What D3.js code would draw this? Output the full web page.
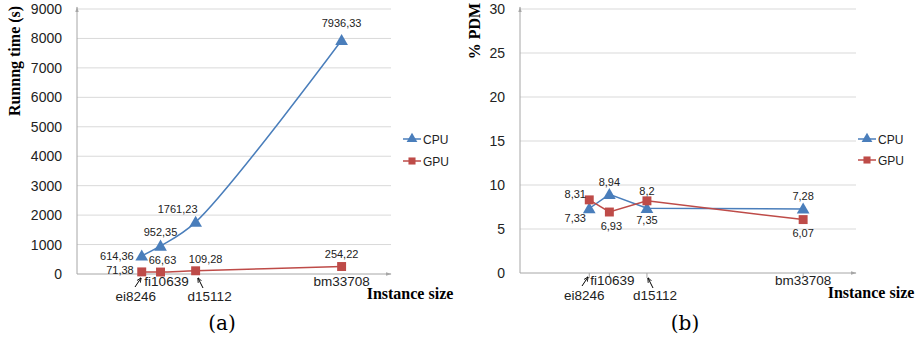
<!DOCTYPE html>
<html lang="en">
<head>
    <meta charset="UTF-8">
    <title>Running time and %PDM</title>
    <style>
        body { margin: 0; background: #fff; }
        .tick-label { font-family: "Liberation Sans", Arial, sans-serif; font-size: 14px; fill: #222; }
        .val { font-family: "Liberation Sans", Arial, sans-serif; font-size: 11px; fill: #222; }
        .cat { font-family: "Liberation Sans", Arial, sans-serif; font-size: 13.5px; fill: #222; }
        .title { font-family: "Liberation Serif", "Times New Roman", serif; font-size: 16px; font-weight: bold; fill: #000; }
        .caption { font-family: "DejaVu Serif", "Liberation Serif", serif; font-size: 20px; fill: #000; }
        .legend { font-family: "Liberation Sans", Arial, sans-serif; font-size: 12px; fill: #222; }
    </style>
</head>
<body>
    <script src="https://d3js.org/d3.v7.min.js"></script>
    <script>
        // data
        const categories = ["ei8246", "fi10639", "d15112", "bm33708"];
        const sizes = [8246, 10639, 15112, 33708];
        const cpuTime = [614.36, 952.35, 1761.23, 7936.33];
        const gpuTime = [71.38, 66.63, 109.28, 254.22];
        const cpuPdm = [7.33, 8.94, 7.35, 7.28];
        const gpuPdm = [8.31, 6.93, 8.2, 6.07];
        const timeTicks = [0, 1000, 2000, 3000, 4000, 5000, 6000, 7000, 8000, 9000];
        const pdmTicks = [0, 5, 10, 15, 20, 25, 30];

        const blue = "#4a7ebb", red = "#be4b48";
        const fmt = d => String(d).replace(".", ",");

        const svg = d3.select("body").append("svg")
            .attr("width", 922).attr("height", 340);

        // label placement per panel / series (dx, dy, anchor)
        const panels = [
            {
                xr: [77, 391], yr: [274, 9], ymax: 9000, ticks: timeTicks,
                series: [
                    { vals: cpuTime, color: blue, sym: d3.symbolTriangle, curve: d3.curveCatmullRom,
                      lab: [[-8, 4, "end"], [0, -10, "middle"], [-18, -9, "middle"], [0, -13, "middle"]] },
                    { vals: gpuTime, color: red, sym: d3.symbolSquare, curve: d3.curveCatmullRom,
                      lab: [[-8, 2, "end"], [2, -8, "middle"], [10, -8, "middle"], [0, -9, "middle"]] }
                ],
                catDx: [-6, 6, 14, 0], arrows: [[135, 287, 141, 278], [203, 288, 198, 278]],
                ticksOnX: false,
                title: "Runnng time (s)", titleX: 20, titleY: 61,
                legendX: 403, legendY: [139, 161],
                instX: 410, caption: "(a)", capX: 222
            },
            {
                xr: [520, 856], yr: [273, 9], ymax: 30, ticks: pdmTicks,
                series: [
                    { vals: cpuPdm, color: blue, sym: d3.symbolTriangle, curve: d3.curveLinear,
                      lab: [[-14, 14, "middle"], [0, -8, "middle"], [0, 16, "middle"], [0, -9, "middle"]] },
                    { vals: gpuPdm, color: red, sym: d3.symbolSquare, curve: d3.curveLinear,
                      lab: [[-14, -2, "middle"], [2, 18, "middle"], [0, -6, "middle"], [0, 17, "middle"]] }
                ],
                catDx: [-5, 3, 8, 0], arrows: [[582, 286, 588, 277], [653, 288, 648, 278]],
                ticksOnX: true,
                title: "% PDM", titleX: 480, titleY: 31,
                legendX: 858, legendY: [139, 160],
                instX: 871, caption: "(b)", capX: 685
            }
        ];

        const defs = svg.append("defs");
        defs.append("marker").attr("id", "axArrow").attr("viewBox", "0 0 10 10")
            .attr("refX", 9).attr("refY", 5).attr("markerWidth", 6).attr("markerHeight", 6)
            .attr("orient", "auto")
            .append("path").attr("d", "M0,2L10,5L0,8Z").attr("fill", "#a6a6a6");
        defs.append("marker").attr("id", "ptArrow").attr("viewBox", "0 0 10 10")
            .attr("refX", 9).attr("refY", 5).attr("markerWidth", 5).attr("markerHeight", 5)
            .attr("orient", "auto")
            .append("path").attr("d", "M0,1L10,5L0,9").attr("fill", "none").attr("stroke", "#000").attr("stroke-width", 1.6);

        panels.forEach(p => {
            const x = d3.scaleLinear().domain([0, 40000]).range(p.xr);
            const y = d3.scaleLinear().domain([0, p.ymax]).range(p.yr);
            const g = svg.append("g");

            // gridlines
            g.selectAll(".grid").data(p.ticks.filter(t => t > 0)).enter().append("line")
                .attr("x1", p.xr[0]).attr("x2", p.xr[1])
                .attr("y1", d => y(d)).attr("y2", d => y(d))
                .attr("stroke", "#d9d9d9").attr("stroke-width", 1);

            // y tick labels
            g.selectAll(".tick-label").data(p.ticks).enter().append("text")
                .attr("class", "tick-label")
                .attr("x", p.xr[0] - 15).attr("y", d => y(d) + 5)
                .attr("text-anchor", "end").text(d => d);

            // axes
            g.append("line").attr("x1", p.xr[0]).attr("x2", p.xr[0])
                .attr("y1", p.yr[0]).attr("y2", p.yr[1] - 2)
                .attr("stroke", "#a6a6a6").attr("marker-end", "url(#axArrow)");
            g.append("line").attr("x1", p.xr[0]).attr("x2", p.xr[1])
                .attr("y1", p.yr[0]).attr("y2", p.yr[0])
                .attr("stroke", "#a6a6a6").attr("marker-end", "url(#axArrow)");

            if (p.ticksOnX) {
                g.selectAll(".xt").data(sizes).enter().append("line")
                    .attr("x1", d => x(d)).attr("x2", d => x(d))
                    .attr("y1", p.yr[0]).attr("y2", p.yr[0] + 5)
                    .attr("stroke", "#a6a6a6");
            }

            // series
            p.series.forEach(s => {
                const pts = s.vals.map((v, i) => [x(sizes[i]), y(v)]);
                g.append("path").attr("d", d3.line().curve(s.curve)(pts))
                    .attr("fill", "none").attr("stroke", s.color).attr("stroke-width", 1.5);
                g.selectAll(null).data(pts).enter().append("path")
                    .attr("d", d3.symbol().type(s.sym).size(s.sym === d3.symbolSquare ? 80 : 70))
                    .attr("transform", d => `translate(${d[0]},${d[1] + (s.sym === d3.symbolTriangle ? 1 : 0)})`)
                    .attr("fill", s.color);
                g.selectAll(null).data(s.vals).enter().append("text")
                    .attr("class", "val")
                    .attr("x", (d, i) => x(sizes[i]) + s.lab[i][0])
                    .attr("y", (d, i) => y(d) + s.lab[i][1])
                    .attr("text-anchor", (d, i) => s.lab[i][2])
                    .text(fmt);
            });

            // category labels, alternating rows
            g.selectAll(".cat").data(categories).enter().append("text")
                .attr("class", "cat")
                .attr("x", (d, i) => x(sizes[i]) + p.catDx[i])
                .attr("y", (d, i) => p.yr[0] + (i % 2 === 0 ? 27 : 12))
                .attr("text-anchor", "middle").text(d => d);

            g.selectAll(".arr").data(p.arrows).enter().append("line")
                .attr("x1", d => d[0]).attr("y1", d => d[1])
                .attr("x2", d => d[2]).attr("y2", d => d[3])
                .attr("stroke", "#000").attr("stroke-width", 1)
                .attr("marker-end", "url(#ptArrow)");

            // titles
            g.append("text").attr("class", "title")
                .attr("transform", `translate(${p.titleX},${p.titleY}) rotate(-90)`)
                .attr("text-anchor", "middle").text(p.title);
            g.append("text").attr("class", "title")
                .attr("x", p.instX).attr("y", p.yr[0] + 25)
                .attr("text-anchor", "middle").text("Instance size");
            g.append("text").attr("class", "caption")
                .attr("x", p.capX).attr("y", 330)
                .attr("text-anchor", "middle").text(p.caption);

            // legend
            ["CPU", "GPU"].forEach((name, k) => {
                const s = p.series[k];
                const ly = p.legendY[k];
                g.append("line").attr("x1", p.legendX).attr("x2", p.legendX + 18)
                    .attr("y1", ly).attr("y2", ly)
                    .attr("stroke", s.color).attr("stroke-width", 1.5);
                g.append("path")
                    .attr("d", d3.symbol().type(s.sym).size(50))
                    .attr("transform", `translate(${p.legendX + 9},${ly})`)
                    .attr("fill", s.color);
                g.append("text").attr("class", "legend")
                    .attr("x", p.legendX + 20).attr("y", ly + 5).text(name);
            });
        });
    </script>
</body>
</html>
